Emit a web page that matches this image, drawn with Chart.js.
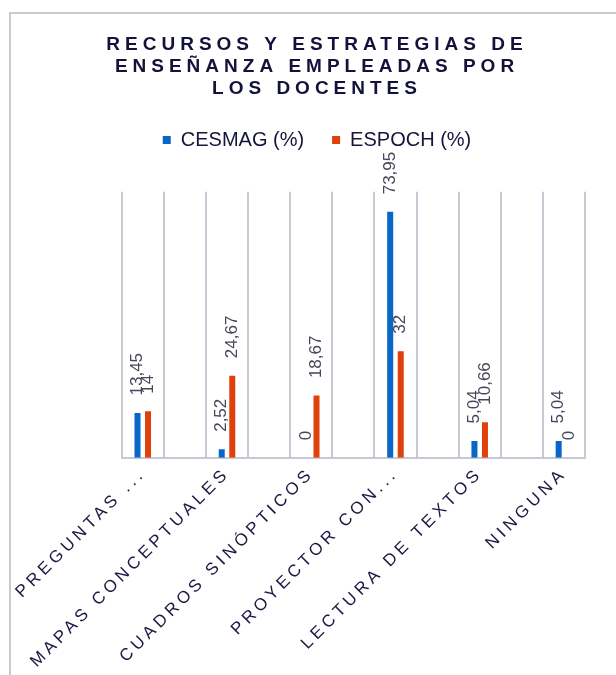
<!DOCTYPE html>
<html>
<head>
<meta charset="utf-8">
<script src="https://cdn.jsdelivr.net/npm/chart.js@4/dist/chart.umd.min.js"></script>
<style>
  html, body { margin: 0; padding: 0; background: #ffffff; }
  #wrap { width: 616px; height: 675px; position: relative; }
  canvas { display: block; }
</style>
</head>
<body>
<div id="wrap"><canvas id="c" width="616" height="675"></canvas></div>
<script>
// ---- data ----
const titleLines = ['RECURSOS Y ESTRATEGIAS DE', 'ENSEÑANZA EMPLEADAS POR', 'LOS DOCENTES'];
const categories = ['PREGUNTAS ...', 'MAPAS CONCEPTUALES', 'CUADROS SINÓPTICOS', 'PROYECTOR CON...', 'LECTURA DE TEXTOS', 'NINGUNA'];
const seriesNames = ['CESMAG (%)', 'ESPOCH (%)'];
const cesmag = [13.45, 2.52, 0, 73.95, 5.04, 5.04];
const espoch = [14, 24.67, 18.67, 32, 10.66, 0];
const yMin = 0;
const yMax = 80;

// ---- build the slot table (each category followed by an empty gap slot) ----
const slotLabels = [], slotC = [], slotE = [];
categories.forEach((c, i) => {
  if (i > 0) { slotLabels.push(''); slotC.push(null); slotE.push(null); }
  slotLabels.push(c); slotC.push(cesmag[i]); slotE.push(espoch[i]);
});

const FONT = "'Liberation Sans', Arial, Helvetica, sans-serif";
const GRID = '#C8C8D3';
const PAD_LEFT = 49;

const framePlugin = {
  id: 'frame',
  beforeDraw(chart) {
    const ctx = chart.ctx;
    ctx.save();
    ctx.strokeStyle = '#C9C9D4';
    ctx.lineWidth = 2;
    ctx.beginPath();
    ctx.moveTo(10, 675);
    ctx.lineTo(10, 13);
    ctx.lineTo(616, 13);
    ctx.stroke();
    ctx.restore();
    // letter spacing for title and category labels
    const tb = chart.titleBlock;
    if (tb && !tb._ls) {
      const d = tb.draw;
      tb.draw = function (a) { const c = this.ctx; c.save(); c.letterSpacing = '5px'; d.call(this, a); c.restore(); };
      tb._ls = true;
    }
    const xs = chart.scales.x;
    if (xs && !xs._ls) {
      const o = xs.drawLabels;
      xs.drawLabels = function (a) { const c = this.ctx; c.save(); c.letterSpacing = '4px'; o.call(this, a); c.restore(); };
      xs._ls = true;
    }
  }
};

const valueLabels = {
  id: 'valueLabels',
  afterDatasetsDraw(chart) {
    const ctx = chart.ctx;
    ctx.save();
    ctx.font = '17px ' + FONT;
    ctx.fillStyle = '#44475A';
    ctx.textAlign = 'left';
    ctx.textBaseline = 'middle';
    chart.data.datasets.forEach((ds, i) => {
      const meta = chart.getDatasetMeta(i);
      meta.data.forEach((bar, j) => {
        const v = ds.data[j];
        if (v === null || v === undefined) return;
        const txt = String(v).replace('.', ',');
        ctx.save();
        ctx.translate(bar.x, bar.y - 17.5);
        ctx.rotate(-Math.PI / 2);
        ctx.fillText(txt, 0, 0);
        ctx.restore();
      });
    });
    ctx.restore();
  }
};

new Chart(document.getElementById('c'), {
  type: 'bar',
  data: {
    labels: slotLabels,
    datasets: [
      { label: seriesNames[0], data: slotC, backgroundColor: '#0866C6', categoryPercentage: 0.5, barPercentage: 0.57 },
      { label: seriesNames[1], data: slotE, backgroundColor: '#E0400A', categoryPercentage: 0.5, barPercentage: 0.57 }
    ]
  },
  options: {
    responsive: false,
    animation: false,
    devicePixelRatio: 1,
    layout: { padding: { left: PAD_LEFT, right: 31, top: 34, bottom: 0 } },
    plugins: {
      tooltip: { enabled: false },
      title: {
        display: true,
        text: titleLines,
        color: '#12123A',
        font: { family: FONT, size: 19, weight: 'bold', lineHeight: 22 / 19 },
        padding: { top: 0, bottom: 2 }
      },
      legend: {
        display: true,
        position: 'top',
        labels: {
          boxWidth: 8,
          boxHeight: 8,
          padding: 28,
          color: '#15153A',
          font: { family: FONT, size: 20 }
        }
      }
    },
    scales: {
      x: {
        type: 'category',
        position: 'bottom',
        offset: true,
        grid: { display: true, color: GRID, lineWidth: 2, drawTicks: false, offset: true },
        border: { display: true, color: GRID, width: 2 },
        ticks: {
          autoSkip: false,
          minRotation: 45,
          maxRotation: 45,
          padding: 6,
          color: '#1A1A44',
          font: { family: FONT, size: 17 }
        },
        afterFit(s) { s.height = 675 - 457.7; }
      },
      xTop: {
        type: 'category',
        position: 'top',
        labels: slotLabels,
        grid: { display: false },
        border: { display: false },
        ticks: { display: false },
        afterFit(s) { s.height = 31.7; }
      },
      y: {
        min: yMin,
        max: yMax,
        grid: { display: false },
        border: { display: false },
        ticks: { display: false },
        afterFit(s) { s.width = 121.7 - PAD_LEFT; }
      }
    }
  },
  plugins: [framePlugin, valueLabels]
});
</script>
</body>
</html>
